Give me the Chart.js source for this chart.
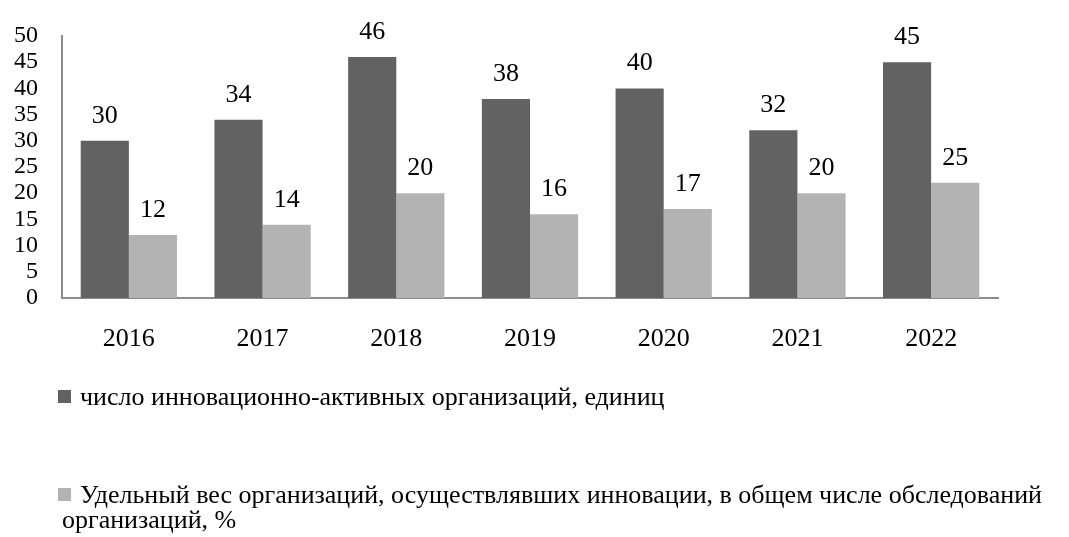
<!DOCTYPE html>
<html>
<head>
<meta charset="utf-8">
<script src="https://cdn.jsdelivr.net/npm/chart.js@4/dist/chart.umd.min.js"></script>
<style>
html,body{margin:0;padding:0;background:#fff;}
#wrap{width:1069px;height:537px;position:relative;}
</style>
</head>
<body>
<div id="wrap"><canvas id="c" width="1069" height="537"></canvas></div>
<script>
const categories = ['2016','2017','2018','2019','2020','2021','2022'];
const seriesNames = ['число инновационно-активных организаций, единиц',
  'Удельный вес организаций, осуществлявших инновации, в общем числе обследований организаций, %'];
const activeOrgs = [30, 34, 46, 38, 40, 32, 45];
const activeOrgsLabels = ['30','34','46','38','40','32','45'];
const innovShare = [12, 14, 20, 16, 17, 20, 22];
const innovShareLabels = ['12','14','20','16','17','20','25'];
const yTicks = [0,5,10,15,20,25,30,35,40,45,50];

const FONT = "'Liberation Serif', 'Times New Roman', serif";

const valueLabels = {
  id: 'valueLabels',
  afterDatasetsDraw(chart) {
    const ctx = chart.ctx;
    ctx.save();
    ctx.font = '26px ' + FONT;
    ctx.fillStyle = '#000';
    ctx.textAlign = 'center';
    ctx.textBaseline = 'alphabetic';
    chart.data.datasets.forEach((ds, di) => {
      const meta = chart.getDatasetMeta(di);
      meta.data.forEach((el, i) => {
        ctx.fillText(ds.valueText[i], el.x, el.y - 18);
      });
    });
    ctx.restore();
  }
};

const customLegend = {
  id: 'customLegend',
  afterDraw(chart) {
    const ctx = chart.ctx;
    ctx.save();
    ctx.font = '26px ' + FONT;
    ctx.fillStyle = '#000';
    ctx.textBaseline = 'alphabetic';
    const baselines = [405, 503];
    const markerX = 58, textX = 80, maxRight = 1062, lineH = 25, wrapX = 62;
    chart.data.datasets.forEach((ds, di) => {
      const base = baselines[di];
      ctx.fillStyle = ds.backgroundColor;
      ctx.fillRect(markerX, base - 15, 13, 13);
      ctx.fillStyle = '#000';
      const words = ds.label.split(' ');
      let line = '';
      let x = textX, y = base;
      for (let w = 0; w < words.length; w++) {
        const test = line ? line + ' ' + words[w] : words[w];
        if (ctx.measureText(test).width > maxRight - x && line) {
          ctx.fillText(line, x, y);
          line = words[w];
          x = wrapX; y += lineH;
        } else {
          line = test;
        }
      }
      if (line) ctx.fillText(line, x, y);
    });
    ctx.restore();
  }
};

new Chart(document.getElementById('c'), {
  type: 'bar',
  data: {
    labels: categories,
    datasets: [
      { label: seriesNames[0], data: activeOrgs, valueText: activeOrgsLabels, backgroundColor: '#626262',
        barPercentage: 1.0, categoryPercentage: 0.72 },
      { label: seriesNames[1], data: innovShare, valueText: innovShareLabels, backgroundColor: '#b3b3b3',
        barPercentage: 1.0, categoryPercentage: 0.72 }
    ]
  },
  options: {
    responsive: false,
    animation: false,
    layout: { autoPadding: false, padding: { left: 0, right: 71, top: 32, bottom: 179 } },
    plugins: { legend: { display: false }, tooltip: { enabled: false } },
    scales: {
      x: {
        grid: { display: false, drawTicks: false },
        border: { display: true, color: '#8c8c8c', width: 2 },
        ticks: { color: '#000', font: { family: FONT, size: 26 }, padding: 26, maxRotation: 0, autoSkip: false },
        afterFit(s) { s.height = 60; }
      },
      y: {
        min: 0, max: 50,
        afterBuildTicks(s) { s.ticks = yTicks.map(v => ({ value: v })); },
        grid: { display: false, drawTicks: false },
        border: { display: true, color: '#8c8c8c', width: 2 },
        ticks: { color: '#000', font: { family: FONT, size: 24, lineHeight: 1 }, padding: 24, autoSkip: false },
        afterFit(s) { s.width = 62; }
      }
    }
  },
  plugins: [valueLabels, customLegend]
});
</script>
</body>
</html>
